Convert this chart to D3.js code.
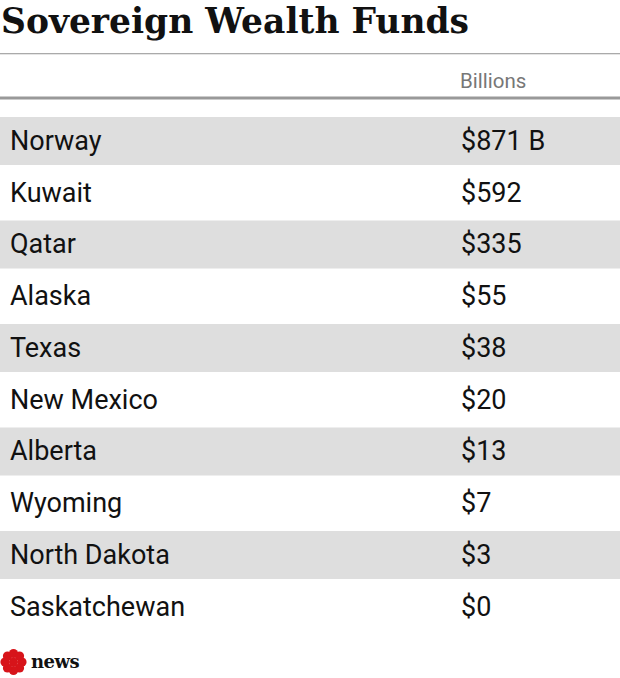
<!DOCTYPE html>
<html><head><meta charset="utf-8">
<script src="https://cdn.jsdelivr.net/npm/d3@7"></script>
<style>body{margin:0;background:#fff}</style></head>
<body><svg id="c" width="620" height="678"></svg>
<script>
const title = "Sovereign Wealth Funds";
const columnLabel = "Billions";
const regions = ["Norway","Kuwait","Qatar","Alaska","Texas","New Mexico","Alberta","Wyoming","North Dakota","Saskatchewan"];
const values = [871,592,335,55,38,20,13,7,3,0];

const svg = d3.select("#c");
svg.append("text").attr("x",1).attr("y",33).text(title)
  .attr("font-family","'DejaVu Serif', serif").attr("font-size",36).attr("font-weight","bold")
  .attr("textLength",468).attr("lengthAdjust","spacingAndGlyphs").attr("fill","#111");
svg.append("rect").attr("x",0).attr("y",53).attr("width",620).attr("height",1.3).attr("fill","#aaa");
svg.append("text").attr("x",460).attr("y",88).text(columnLabel)
  .attr("font-family","Roboto, sans-serif").attr("font-size",20.5).attr("fill","#777");
svg.append("rect").attr("x",0).attr("y",96.5).attr("width",620).attr("height",3).attr("fill","#999");

const y = d3.scaleBand().domain(regions).range([114.5, 114.5+51.75*regions.length]);
const g = svg.selectAll("g.row").data(regions).join("g").attr("transform",d=>`translate(0,${y(d)})`);
g.filter((d,i)=>i%2===0).append("rect").attr("x",0).attr("y",2.5).attr("width",620).attr("height",48).attr("fill","#dedede");
g.append("text").attr("x",10).attr("y",y.bandwidth()/2).attr("dy","0.35em").text(d=>d)
  .attr("font-family","Roboto, sans-serif").attr("font-size",27).attr("fill","#111");
g.append("text").attr("x",461).attr("y",y.bandwidth()/2).attr("dy","0.35em")
  .text((d,i)=>"$"+values[i]+(i===0?" B":""))
  .attr("font-family","Roboto, sans-serif").attr("font-size",27).attr("fill","#111");

// logo
const lg = svg.append("g").attr("transform","translate(13.5,662)").attr("fill","#d7141a");
for(let k=0;k<8;k++){
  const a=k*Math.PI/4;
  lg.append("circle").attr("cx",8.5*Math.cos(a)).attr("cy",8.5*Math.sin(a)).attr("r",4.6);
}
lg.append("circle").attr("r",4.5);
svg.append("text").attr("x",31).attr("y",668).text("news")
  .attr("font-family","'DejaVu Serif', serif").attr("font-weight","bold").attr("font-size",18)
  .attr("letter-spacing",-0.5).attr("fill","#111");
</script></body></html>
